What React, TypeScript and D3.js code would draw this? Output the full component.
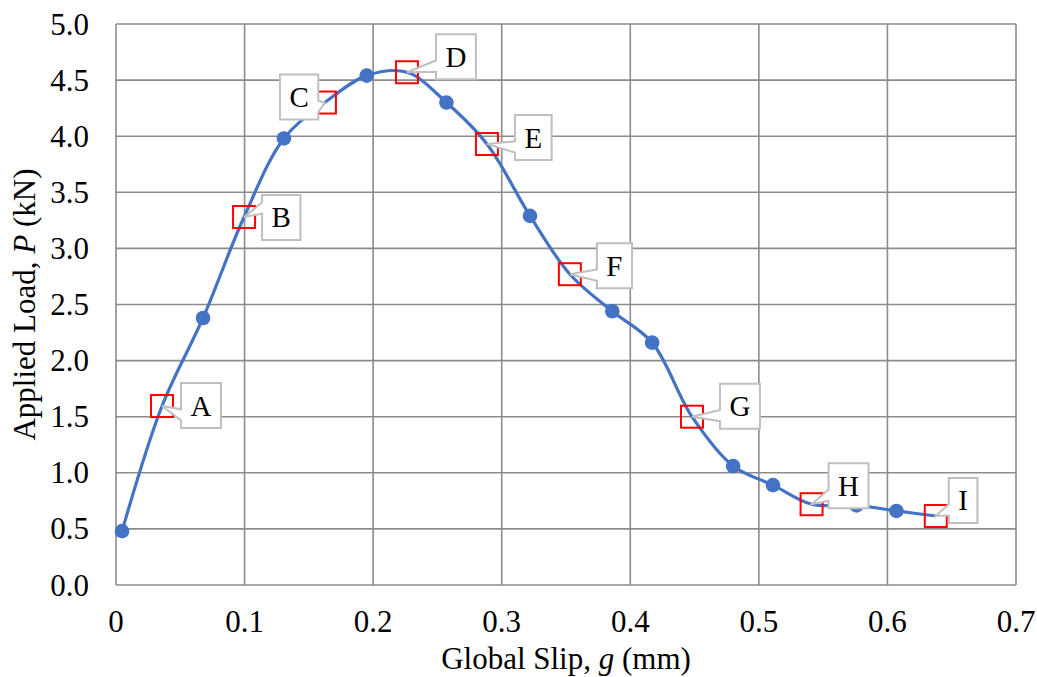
import React from "react";
import * as d3 from "d3";

// ---- Data ----
const slip = [0.0047, 0.0677, 0.1306, 0.195, 0.257, 0.322, 0.386, 0.417, 0.48, 0.511, 0.576, 0.607];
const load = [0.48, 2.38, 3.98, 4.54, 4.3, 3.29, 2.44, 2.16, 1.06, 0.89, 0.71, 0.66];

const labelNames = ["A", "B", "C", "D", "E", "F", "G", "H", "I"];
const labelSlip = [0.0358, 0.0996, 0.1625, 0.2263, 0.2885, 0.353, 0.448, 0.541, 0.6376];
const labelLoad = [1.595, 3.28, 4.3, 4.57, 3.93, 2.77, 1.5, 0.72, 0.615];
// callout box offset from label point (pixels)
const calloutDx = [19, 18, -45, 29, 28, 27, 28, 17, 13];
const calloutDy = [-23, -22, -28, -38, -29, -31, -33, -41, -38];

const xTicks = [0, 0.1, 0.2, 0.3, 0.4, 0.5, 0.6, 0.7];
const xTickLabels = ["0", "0.1", "0.2", "0.3", "0.4", "0.5", "0.6", "0.7"];
const yTicks = [0, 0.5, 1, 1.5, 2, 2.5, 3, 3.5, 4, 4.5, 5];
const yTickLabels = ["0.0", "0.5", "1.0", "1.5", "2.0", "2.5", "3.0", "3.5", "4.0", "4.5", "5.0"];

const W = 1037;
const H = 677;
const FONT = "'Times New Roman', Times, 'Liberation Serif', Tinos, 'Nimbus Roman', 'DejaVu Serif', serif";
const BLUE = "#4472C4";
const GRID = "#8c8c8c";

const charW: Record<string, number> = { A: 0.722, B: 0.667, C: 0.667, D: 0.722, E: 0.611, F: 0.556, G: 0.722, H: 0.722, I: 0.333 };

function wedgePath(l: number, t: number, w: number, h: number, tx: number, ty: number) {
  const r = l + w, b = t + h;
  const hc = l + w / 2, vc = t + h / 2;
  const dxPos = tx - hc, dyPos = ty - vc;
  const xPos = tx, yPos = ty;
  const dq = (dxPos * h) / w;
  const dz = Math.abs(dyPos) - Math.abs(dq);
  const xg1 = dxPos > 0 ? 7 : 2, xg2 = dxPos > 0 ? 10 : 5;
  const yg1 = dyPos > 0 ? 7 : 2, yg2 = dyPos > 0 ? 10 : 5;
  const x1 = l + (w * xg1) / 12, x2 = l + (w * xg2) / 12;
  const y1 = t + (h * yg1) / 12, y2 = t + (h * yg2) / 12;
  const xl = dz > 0 ? l : dxPos > 0 ? l : xPos;
  const xt = dz > 0 ? (dyPos > 0 ? x1 : xPos) : x1;
  const xr = dz > 0 ? r : dxPos > 0 ? xPos : r;
  const xb = dz > 0 ? (dyPos > 0 ? xPos : x1) : x1;
  const yl = dz > 0 ? y1 : dxPos > 0 ? y1 : yPos;
  const yt = dz > 0 ? (dyPos > 0 ? t : yPos) : t;
  const yr = dz > 0 ? y1 : dxPos > 0 ? yPos : y1;
  const yb = dz > 0 ? (dyPos > 0 ? yPos : b) : b;
  const pts = [
    [l, t], [x1, t], [xt, yt], [x2, t], [r, t], [r, y1], [xr, yr], [r, y2], [r, b],
    [x2, b], [xb, yb], [x1, b], [l, b], [l, y2], [xl, yl], [l, y1],
  ];
  return "M" + pts.map((p) => p[0].toFixed(2) + "," + p[1].toFixed(2)).join("L") + "Z";
}

export default function App() {
  const x = d3.scaleLinear().domain([0, 0.7]).range([116, 1016]);
  const y = d3.scaleLinear().domain([0, 5]).range([585, 24]);

  const markerPts = slip.map((s, i) => [s, load[i]] as [number, number]);
  const labelPts = labelSlip.map((s, i) => [s, labelLoad[i]] as [number, number]);
  // the smoothed curve runs through the measured points and the labelled stages
  const curvePts = [...markerPts, ...labelPts].sort((a, b) => a[0] - b[0]);
  const line = d3
    .line<[number, number]>()
    .x((d) => x(d[0]))
    .y((d) => y(d[1]))
    .curve(d3.curveCatmullRom.alpha(0.5));

  const fs = 31;
  const lfs = 29;
  const txt = { fontFamily: FONT };

  return (
    <svg width={W} height={H} style={{ position: "absolute", left: 0, top: 0, background: "#fff" }}>
      <rect x={0} y={0} width={W} height={H} fill="#fff" />
      {/* grid */}
      {yTicks.map((t) => (
        <line key={"gy" + t} x1={x(0)} x2={x(0.7)} y1={y(t)} y2={y(t)} stroke={GRID} strokeWidth={1.6} />
      ))}
      {xTicks.map((t) => (
        <line key={"gx" + t} x1={x(t)} x2={x(t)} y1={y(0)} y2={y(5)} stroke={GRID} strokeWidth={1.6} />
      ))}
      {/* tick labels */}
      {yTicks.map((t, i) => (
        <text key={"ty" + t} x={89} y={y(t) + 10.5} textAnchor="end" fontSize={fs} fill="#000" style={txt}>
          {yTickLabels[i]}
        </text>
      ))}
      {xTicks.map((t, i) => (
        <text key={"tx" + t} x={x(t)} y={632} textAnchor="middle" fontSize={fs} fill="#000" style={txt}>
          {xTickLabels[i]}
        </text>
      ))}
      {/* axis titles */}
      <text x={566} y={669} textAnchor="middle" fontSize={fs} fill="#000" style={txt}>
        Global Slip, <tspan fontStyle="italic">g</tspan> (mm)
      </text>
      <text transform={`translate(35,${y(2.5)}) rotate(-90)`} textAnchor="middle" fontSize={fs} fill="#000" style={txt}>
        Applied Load, <tspan fontStyle="italic">P</tspan> (kN)
      </text>
      {/* series */}
      <path d={line(curvePts) || ""} fill="none" stroke={BLUE} strokeWidth={3.2} strokeLinejoin="round" />
      {markerPts.map((p, i) => (
        <circle key={"m" + i} cx={x(p[0])} cy={y(p[1])} r={7.3} fill={BLUE} />
      ))}
      {/* red squares */}
      {labelPts.map((p, i) => (
        <rect
          key={"sq" + i}
          x={x(p[0]) - 11}
          y={y(p[1]) - 11}
          width={22}
          height={22}
          fill="none"
          stroke="#ff0000"
          strokeWidth={2}
        />
      ))}
      {/* callouts */}
      {labelNames.map((n, i) => {
        const tx = x(labelSlip[i]);
        const ty = y(labelLoad[i]);
        const bw = charW[n] * lfs + 19;
        const bh = 45;
        const l = tx + calloutDx[i];
        const t = ty + calloutDy[i];
        return (
          <g key={"c" + n}>
            <path d={wedgePath(l, t, bw, bh, tx, ty)} fill="#fff" stroke="#bfbfbf" strokeWidth={2} />
            <text x={l + bw / 2} y={t + bh / 2 + 10} textAnchor="middle" fontSize={lfs} fill="#000" style={txt}>
              {n}
            </text>
          </g>
        );
      })}
    </svg>
  );
}
